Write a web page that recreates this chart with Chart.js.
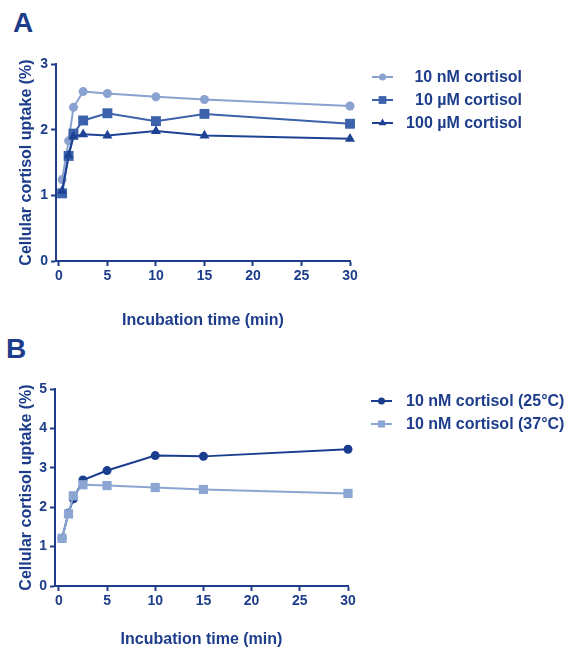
<!DOCTYPE html>
<html>
<head>
<meta charset="utf-8">
<script src="https://cdn.jsdelivr.net/npm/chart.js@4/dist/chart.umd.min.js"></script>
<style>
  html, body { margin: 0; padding: 0; background: #ffffff; }
  body { width: 566px; height: 651px; position: relative; overflow: hidden;
         font-family: "Liberation Sans", Arial, sans-serif; }
  canvas { position: absolute; left: 0; }
  #cvA { top: 0; }
  #cvB { top: 335px; }
  .panel { position: absolute; font-weight: bold; font-size: 28px; line-height: 28px; color: #1d3d8b; }
  #lblA { left: 13px; top: 9px; }
  #lblB { left: 6px; top: 335px; }
</style>
</head>
<body>
<div class="panel" id="lblA">A</div>
<div class="panel" id="lblB">B</div>
<canvas id="cvA" width="566" height="335"></canvas>
<canvas id="cvB" width="566" height="316"></canvas>
<script>
// Incubation times (min)
const TIMES = [0.33, 1, 1.5, 2.5, 5, 10, 15, 30];
const X_TICKS = [0, 5, 10, 15, 20, 25, 30];

// Panel A: uptake (%) at three cortisol concentrations
const LABELS_A = ['10 nM cortisol', '10 \u00b5M cortisol', '100 \u00b5M cortisol'];
const UPTAKE_10NM = [1.24, 1.83, 2.34, 2.58, 2.55, 2.50, 2.46, 2.36];
const UPTAKE_10UM = [1.03, 1.60, 1.94, 2.14, 2.25, 2.13, 2.24, 2.09];
const UPTAKE_100UM = [1.07, 1.61, 1.89, 1.93, 1.91, 1.98, 1.91, 1.86];
const Y_TICKS_A = [0, 1, 2, 3];

// Panel B: 10 nM cortisol uptake (%) at two temperatures
const LABELS_B = ['10 nM cortisol (25\u00b0C)', '10 nM cortisol (37\u00b0C)'];
const UPTAKE_25C = [1.21, 1.85, 2.21, 2.69, 2.93, 3.31, 3.29, 3.47];
const UPTAKE_37C = [1.21, 1.83, 2.29, 2.57, 2.55, 2.50, 2.45, 2.35];
const Y_TICKS_B = [0, 1, 2, 3, 4, 5];

const NAVY = '#1d3d8b';
const FONT = '"Liberation Sans", Arial, sans-serif';

function pts(ys) { return TIMES.map((t, i) => ({ x: t, y: ys[i] })); }

// Later series are stacked on top of earlier ones (lower order draws last)
function series(label, ys, color, style, radius, legendRadius, order) {
  return {
    label: label,
    data: pts(ys),
    borderColor: color,
    backgroundColor: color,
    pointBackgroundColor: color,
    pointBorderColor: color,
    borderWidth: 2,
    pointStyle: style,
    pointRadius: radius,
    pointBorderWidth: 0,
    legendRadius: legendRadius,
    order: order,
    tension: 0,
    clip: false
  };
}

// Draws the legend rows: short line with the marker, then the label
const sideLegend = {
  id: 'sideLegend',
  afterDraw(chart, args, opts) {
    const ctx = chart.ctx;
    ctx.save();
    ctx.font = 'bold 16px ' + FONT;
    ctx.textBaseline = 'middle';
    chart.data.datasets.forEach((ds, i) => {
      const y = opts.rows[i];
      ctx.strokeStyle = ds.borderColor;
      ctx.lineWidth = 2;
      ctx.beginPath();
      ctx.moveTo(opts.lineX0, y);
      ctx.lineTo(opts.lineX1, y);
      ctx.stroke();
      ctx.fillStyle = ds.borderColor;
      Chart.helpers.drawPoint(ctx, { pointStyle: ds.pointStyle, radius: ds.legendRadius, rotation: 0, borderWidth: 0 },
        (opts.lineX0 + opts.lineX1) / 2, y);
      ctx.fillStyle = NAVY;
      ctx.textAlign = opts.align;
      ctx.fillText(ds.label, opts.textX, y + 1);
    });
    ctx.restore();
  }
};

function makeOptions(cfg) {
  return {
    responsive: false,
    animation: false,
    layout: { padding: { left: 0, top: cfg.top, right: cfg.right, bottom: cfg.bottom } },
    plugins: {
      legend: { display: false },
      tooltip: { enabled: false },
      sideLegend: cfg.legend
    },
    scales: {
      x: {
        type: 'linear',
        min: cfg.xMin,
        max: 30,
        afterBuildTicks: s => { s.ticks = X_TICKS.map(v => ({ value: v })); },
        afterFit: s => { s.height = cfg.xHeight; },
        grid: { display: true, drawOnChartArea: false, drawTicks: true, tickLength: 5,
                tickWidth: 2, tickColor: NAVY },
        border: { display: true, color: NAVY, width: 2 },
        ticks: { color: NAVY, padding: 2, maxRotation: 0,
                 font: { family: FONT, size: 14, weight: 'bold' } },
        title: { display: true, text: 'Incubation time (min)', color: NAVY,
                 padding: { top: 0, bottom: 0 },
                 font: { family: FONT, size: 16, weight: 'bold' } }
      },
      y: {
        type: 'linear',
        min: 0,
        max: cfg.yTicks[cfg.yTicks.length - 1],
        afterBuildTicks: s => { s.ticks = cfg.yTicks.map(v => ({ value: v })); },
        afterFit: s => { s.width = cfg.yWidth; },
        grid: { display: true, drawOnChartArea: false, drawTicks: true, tickLength: 5,
                tickWidth: 2, tickColor: NAVY },
        border: { display: true, color: NAVY, width: 2 },
        ticks: { color: NAVY, padding: 3,
                 font: { family: FONT, size: 14, weight: 'bold' } },
        title: { display: true, text: 'Cellular cortisol uptake (%)', color: NAVY,
                 padding: { top: 17, bottom: 0 },
                 font: { family: FONT, size: 16, weight: 'bold' } }
      }
    }
  };
}

new Chart(document.getElementById('cvA'), {
  type: 'line',
  data: {
    datasets: [
      series(LABELS_A[0], UPTAKE_10NM, '#8aa2cf', 'circle', 4.5, 3.5, 3),
      series(LABELS_A[1], UPTAKE_10UM, '#3b62aa', 'rect', 7, 5.5, 2),
      series(LABELS_A[2], UPTAKE_100UM, '#1f4394', 'triangle', 5.8, 4.5, 1)
    ]
  },
  options: makeOptions({
    top: 64, right: 216, bottom: 4.4, xHeight: 69.6, yWidth: 56, xMin: -0.3, yTicks: Y_TICKS_A,
    legend: { rows: [77, 100, 123], lineX0: 372, lineX1: 393, textX: 522, align: 'right' }
  }),
  plugins: [sideLegend]
});

new Chart(document.getElementById('cvB'), {
  type: 'line',
  data: {
    datasets: [
      series(LABELS_B[0], UPTAKE_25C, '#1a3d8f', 'circle', 4.5, 3.5, 2),
      series(LABELS_B[1], UPTAKE_37C, '#8ca6d3', 'rect', 6.5, 5, 1)
    ]
  },
  options: makeOptions({
    top: 54, right: 218, bottom: 1.4, xHeight: 63.6, yWidth: 55, xMin: -0.4, yTicks: Y_TICKS_B,
    legend: { rows: [66, 89], lineX0: 371, lineX1: 392, textX: 406, align: 'left' }
  }),
  plugins: [sideLegend]
});
</script>
</body>
</html>
